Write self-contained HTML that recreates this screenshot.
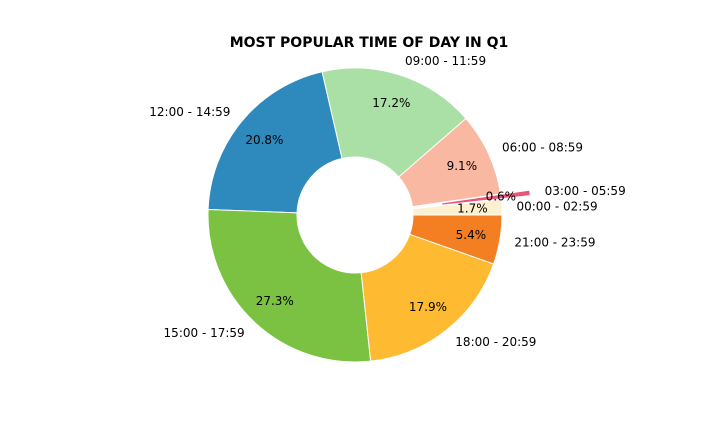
<!DOCTYPE html>
<html><head><meta charset="utf-8"><style>
body{margin:0;background:#fff;}
svg{display:block;font-family:"DejaVu Sans","Liberation Sans",sans-serif;}
</style></head><body>
<svg id="chart" width="720" height="432" viewBox="0 0 720 432">
<text x="369" y="47" text-anchor="middle" font-size="14" font-weight="bold">MOST POPULAR TIME OF DAY IN Q1</text>
<g id="slices"></g><g id="labels"></g>
</svg>
<script>
const categories = ["00:00 - 02:59","03:00 - 05:59","06:00 - 08:59","09:00 - 11:59","12:00 - 14:59","15:00 - 17:59","18:00 - 20:59","21:00 - 23:59"];
const values = [1.7,0.6,9.1,17.2,20.8,27.3,17.9,5.4];
const explode = [0,0.2,0,0,0,0,0,0];
const colors = ["#fdf0cf","#e8557b","#f8b8a1","#aadfa6","#2e89bd","#7bc242","#feba30","#f47f23"];
const cx=355, cy=215, R=147, r0=58;
const NS="http://www.w3.org/2000/svg";
const gS=document.getElementById('slices'), gL=document.getElementById('labels');
const total=values.reduce((a,b)=>a+b,0);
let a0=0;
function pt(a,rad,ox,oy){return [cx+ox+rad*Math.cos(a), cy+oy-rad*Math.sin(a)];}
values.forEach((v,i)=>{
  const a1=a0+v/total*2*Math.PI, mid=(a0+a1)/2;
  const off=explode[i]*R, ox=off*Math.cos(mid), oy=-off*Math.sin(mid);
  const p1=pt(a0,R,ox,oy), p2=pt(a1,R,ox,oy), p3=pt(a1,r0,ox,oy), p4=pt(a0,r0,ox,oy);
  const large=(a1-a0)>Math.PI?1:0;
  const path=document.createElementNS(NS,'path');
  path.setAttribute('d',`M${p1[0]},${p1[1]} A${R},${R} 0 ${large} 0 ${p2[0]},${p2[1]} L${p3[0]},${p3[1]} A${r0},${r0} 0 ${large} 1 ${p4[0]},${p4[1]} Z`);
  path.setAttribute('fill',colors[i]);path.setAttribute('stroke','#fff');path.setAttribute('stroke-width','1');
  
  
  gS.appendChild(path);
  const pp=pt(mid,R*0.8,ox,oy);
  const t=document.createElementNS(NS,'text');
  t.setAttribute('x',pp[0]);t.setAttribute('y',pp[1]+4);t.setAttribute('text-anchor','middle');t.setAttribute('font-size','12');
  t.textContent=v.toFixed(1)+'%';
  
  
  gL.appendChild(t);
  const lp=pt(mid,R*1.1,ox,oy);
  const l=document.createElementNS(NS,'text');
  l.setAttribute('x',lp[0]);l.setAttribute('y',lp[1]+4);
  l.setAttribute('text-anchor',Math.cos(mid)>=0?'start':'end');l.setAttribute('font-size','12');
  l.textContent=categories[i];
  
  
  gL.appendChild(l);
  a0=a1;
});
</script>
</body></html>
